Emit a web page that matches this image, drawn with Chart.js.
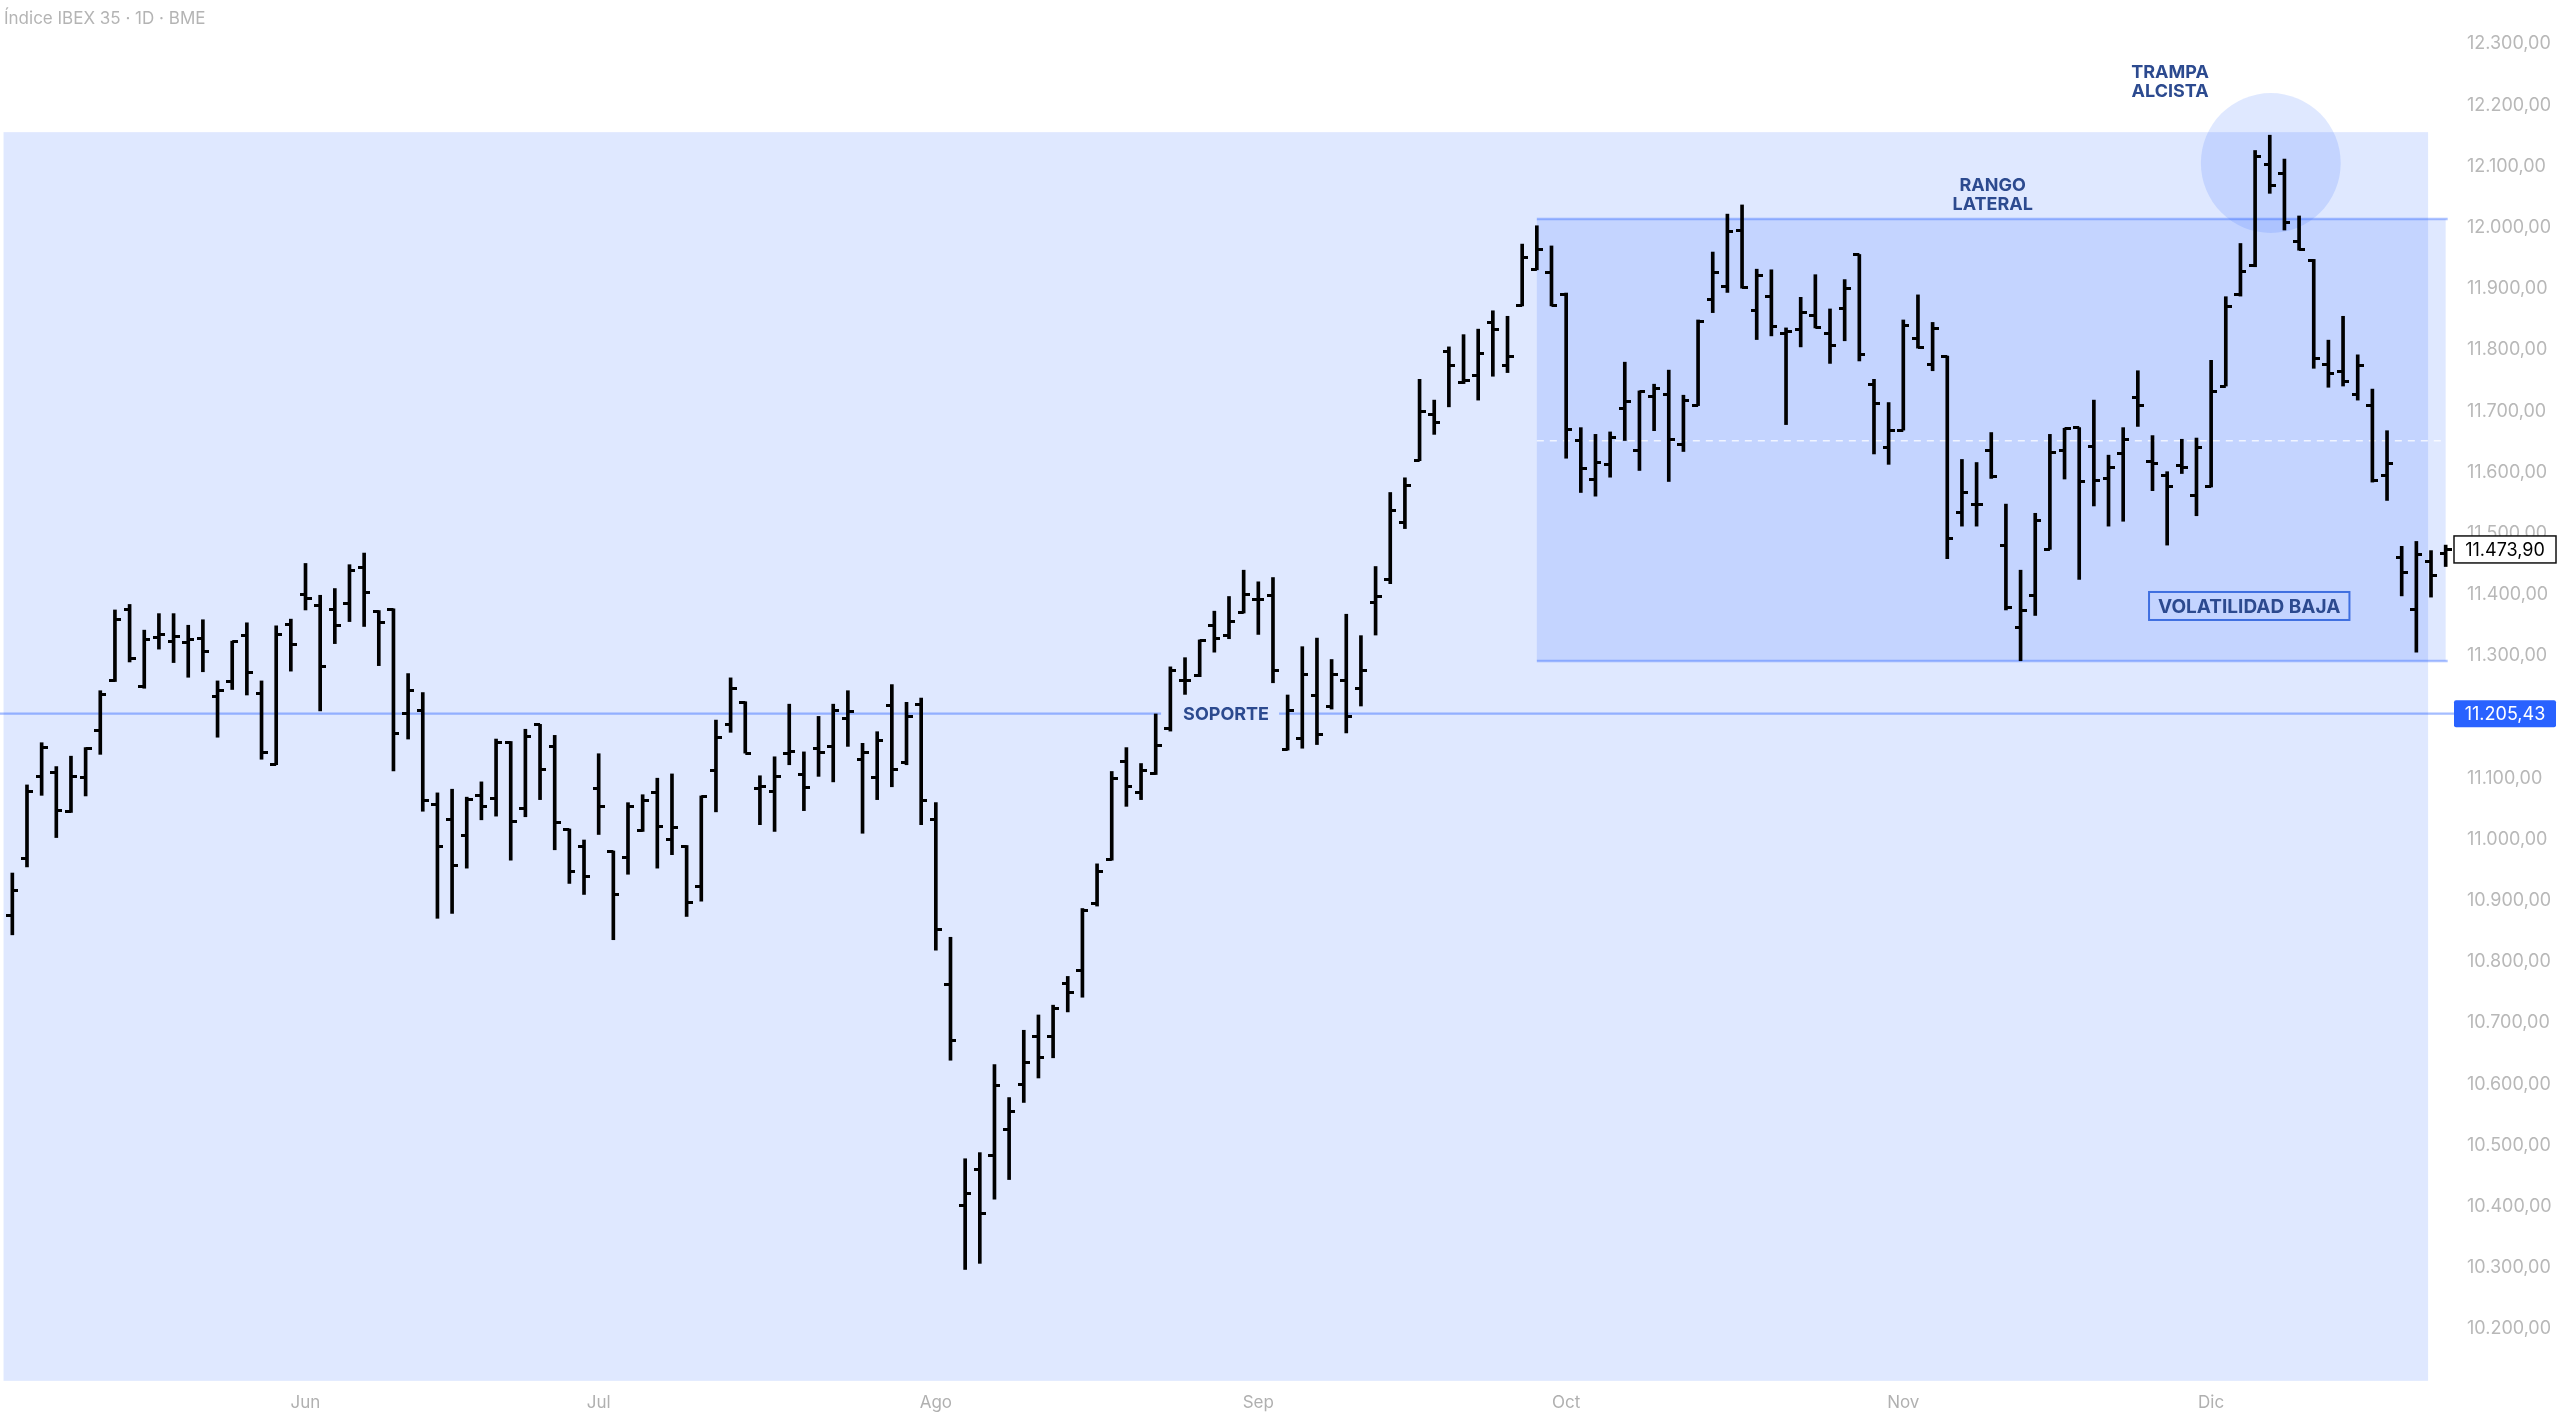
<!DOCTYPE html>
<html><head><meta charset="utf-8">
<script src="https://cdn.jsdelivr.net/npm/chart.js@4.4.1/dist/chart.umd.min.js"></script>
<style>html,body{margin:0;padding:0;background:#fff;overflow:hidden}#wrap{width:2560px;height:1415px}canvas{display:block}</style>
</head><body><div id="wrap"><canvas id="c" width="2560" height="1415"></canvas></div>
<script>
// ---------- DATA ----------
const monthNames = ['May','Jun','Jul','Ago','Sep','Oct','Nov','Dic'];
const tradingDays = [
  [6,7,8,9,10,13,14,15,16,17,20,21,22,23,24,27,28,29,30,31],
  [3,4,5,6,7,10,11,12,13,14,17,18,19,20,21,24,25,26,27,28],
  [1,2,3,4,5,8,9,10,11,12,15,16,17,18,19,22,23,24,25,26,29,30,31],
  [1,2,5,6,7,8,9,12,13,14,15,16,19,20,21,22,23,26,27,28,29,30],
  [2,3,4,5,6,9,10,11,12,13,16,17,18,19,20,23,24,25,26,27,30],
  [1,2,3,4,7,8,9,10,11,14,15,16,17,18,21,22,23,24,25,28,29,30,31],
  [1,4,5,6,7,8,11,12,13,14,15,18,19,20,21,22,25,26,27,28,29],
  [2,3,4,5,6,9,10,11,12,13,16,17,18,19,20,23,24]
];
const opens = [10876,10969,11102,11110,11045,11101,11178,11259,11375,11250,11330,11323,11322,11329,11233,11258,11334,11238,11123,11351,
11401,11382,11375,11385,11445,11373,11376,11205,11210,11057,11033,11007,11072,11067,11159,11050,11187,11152,11016,10988,
11083,10980,10971,11015,11077,11000,10988,10923,11113,11187,11224,11083,11078,11141,11106,11148,11152,11198,11131,11101,
11219,11125,11221,11033,10762,10402,10461,10483,10526,10599,10678,10677,10765,10786,10896,10967,11128,11077,11107,11182,
11260,11268,11350,11333,11371,11392,11399,11147,11165,11235,11217,11259,11246,11387,11425,11518,11620,11695,11797,11747,
11758,11845,11774,11873,11932,11927,11891,11652,11588,11612,11705,11635,11724,11727,11645,11710,11882,11903,11996,11864,
11887,11827,11833,11857,11827,11867,11956,11743,11641,11669,11819,11776,11789,11535,11548,11636,11480,11347,11399,11474,
11635,11673,11642,11590,11631,11722,11618,11595,11611,11562,11576,11741,11890,11938,12103,12089,11977,11947,11776,11764,
11727,11709,11594,11461,11376,11455,11468];
const highs = [10945,11089,11158,11119,11136,11150,11243,11375,11384,11342,11369,11369,11350,11359,11259,11324,11354,11259,11349,11360,
11451,11399,11410,11449,11468,11374,11377,11271,11240,11076,11082,11069,11094,11164,11160,11180,11188,11170,11017,10999,
11140,10981,11060,11073,11100,11107,10990,11071,11195,11264,11225,11104,11135,11221,11143,11201,11221,11243,11157,11176,
11253,11224,11231,11060,10840,10478,10488,10632,10578,10688,10713,10729,10776,10887,10960,11111,11150,11124,11205,11282,
11297,11326,11373,11397,11440,11421,11428,11236,11315,11329,11294,11368,11333,11446,11567,11591,11752,11718,11805,11825,
11834,11864,11855,11973,12003,11970,11893,11673,11662,11666,11780,11733,11744,11767,11726,11849,11960,12022,12037,11932,
11931,11836,11886,11923,11867,11915,11956,11752,11714,11849,11890,11845,11790,11621,11616,11665,11548,11440,11533,11662,
11672,11673,11718,11628,11673,11766,11660,11601,11654,11656,11783,11887,11974,12126,12151,12112,12019,11948,11816,11855,
11792,11736,11668,11479,11487,11472,11481];
const lows = [10844,10955,11072,11003,11044,11071,11139,11258,11290,11247,11311,11289,11265,11274,11167,11245,11236,11131,11122,11275,
11375,11210,11320,11356,11348,11284,11112,11164,11046,10871,10879,10953,11032,11038,10966,11037,11065,10983,10928,10910,
11008,10836,10943,11013,10953,10975,10874,10899,11045,11175,11141,11024,11013,11122,11047,11103,11094,11152,11010,11065,
11086,11122,11024,10819,10639,10297,10307,10412,10444,10570,10610,10643,10718,10742,10891,10966,11054,11065,11106,11177,
11237,11266,11306,11328,11370,11335,11256,11146,11149,11155,11213,11174,11218,11334,11418,11508,11619,11662,11707,11745,
11718,11757,11763,11872,11931,11872,11623,11567,11561,11592,11652,11603,11668,11585,11634,11709,11861,11894,11901,11817,
11823,11678,11805,11836,11778,11815,11782,11630,11613,11669,11803,11766,11459,11512,11512,11590,11375,11292,11366,11474,
11589,11425,11545,11512,11520,11675,11570,11481,11598,11529,11576,11741,11888,11936,12056,11996,11963,11770,11739,11741,
11718,11584,11554,11398,11306,11396,11446];
const closes = [10916,11078,11150,11048,11102,11149,11237,11360,11296,11326,11335,11331,11326,11307,11243,11323,11272,11142,11335,11319,
11394,11283,11349,11440,11403,11355,11173,11243,11063,10989,10957,11065,11053,11159,11030,11168,11115,11028,10947,10940,
11053,10910,11054,11063,11021,11019,10897,11070,11167,11247,11141,11087,11103,11144,11085,11142,11210,11209,11142,11162,
11114,11201,11063,10852,10671,10422,10388,10597,10556,10635,10643,10723,10750,10884,10947,11099,11086,11113,11153,11276,
11260,11325,11329,11356,11401,11392,11276,11210,11270,11171,11270,11201,11276,11397,11537,11578,11700,11682,11775,11750,
11795,11834,11789,11951,11964,11872,11670,11606,11616,11657,11715,11732,11737,11654,11717,11847,11926,11993,11902,11922,
11838,11830,11861,11837,11808,11901,11792,11712,11669,11840,11804,11835,11491,11567,11548,11593,11379,11374,11521,11633,
11671,11585,11587,11608,11653,11709,11615,11576,11608,11640,11732,11871,11928,12117,12068,12008,11964,11786,11761,11748,
11775,11586,11615,11437,11465,11431,11473.90];
const yTickValues = [10200,10300,10400,10500,10600,10700,10800,10900,11000,11100,11200,11300,11400,11500,11600,11700,11800,11900,12000,12100,12200,12300];
const supportLevel = 11205.43;
const lastPrice = 11473.90;
const titleText = 'Índice IBEX 35 · 1D · BME';
// annotation geometry in data units (bar index, price)
const outerZone = {from: -0.6, to: 164.8, top: 12156, bottom: 10115};
const rangeZone = {from: 104, to: 166, top: 12014, bottom: 11291.6, mid: 11651.7};
const trapCircle = {at: 154.07, price: 12105.5, radiusBars: 4.77};
const notes = [
  {lines: ['TRAMPA','ALCISTA'], at: 147.2, price: 12238},
  {lines: ['RANGO','LATERAL'], at: 135.1, price: 12053}
];
const supportNote = {text: 'SOPORTE', at: 82.8};
const volNote = {text: 'VOLATILIDAD BAJA', at: 152.6, price: 11381.5};

// ---------- BUILD ----------
const labels = [];
const monthTickAt = {};
tradingDays.forEach((arr, m) => arr.forEach((d, k) => {
  if (k === 0 && m > 0) monthTickAt[labels.length] = monthNames[m];
  labels.push(d + ' ' + monthNames[m] + ' 2024');
}));

function fmt(v) {
  const s = v.toFixed(2);
  let [ip, dp] = s.split('.');
  ip = ip.replace(/\B(?=(\d{3})+(?!\d))/g, '.');
  return ip + ',' + dp;
}
function tickCanvas(side) {
  const c = document.createElement('canvas');
  c.width = 12; c.height = 3;
  const g = c.getContext('2d');
  g.fillStyle = '#000';
  if (side === 'left') g.fillRect(0, 0, 6, 3); else g.fillRect(6, 0, 6, 3);
  return c;
}
const FONT = 'Inter, "Helvetica Neue", Arial, sans-serif';
const ZONE = 'rgba(41,98,255,0.15)';
const NOTE_COLOR = '#2c4a8f';
// vertical scale calibration (pixel of support level, pixels per index point)
const SUPPORT_PX = 713.7, PX_PER_POINT = 0.6118;

const annot = {
  id: 'annot',
  beforeDatasetsDraw(chart) {
    const {ctx, chartArea: a} = chart;
    const xs = chart.scales.x, ys = chart.scales.y;
    const X = i => xs.getPixelForValue(i), Y = v => ys.getPixelForValue(v);
    const bw = xs.width / labels.length;
    ctx.save();
    ctx.fillStyle = ZONE;
    const ox0 = Math.max(0, X(outerZone.from));
    ctx.fillRect(ox0, Y(outerZone.top), X(outerZone.to) - ox0, Y(outerZone.bottom) - Y(outerZone.top));
    ctx.fillRect(X(rangeZone.from), Y(rangeZone.top), X(rangeZone.to) - X(rangeZone.from), Y(rangeZone.bottom) - Y(rangeZone.top));
    ctx.beginPath();
    ctx.arc(X(trapCircle.at), Y(trapCircle.price), trapCircle.radiusBars * bw, 0, Math.PI * 2);
    ctx.fill();
    ctx.strokeStyle = 'rgba(41,98,255,0.38)';
    ctx.lineWidth = 2.5;
    [rangeZone.top, rangeZone.bottom].forEach(v => {
      ctx.beginPath(); ctx.moveTo(X(rangeZone.from), Y(v)); ctx.lineTo(X(rangeZone.to) + 2, Y(v)); ctx.stroke();
    });
    ctx.strokeStyle = 'rgba(255,255,255,0.75)';
    ctx.lineWidth = 1.5;
    ctx.setLineDash([7, 6]);
    ctx.beginPath(); ctx.moveTo(X(rangeZone.from), Y(rangeZone.mid)); ctx.lineTo(X(rangeZone.to), Y(rangeZone.mid)); ctx.stroke();
    ctx.setLineDash([]);
    ctx.font = 'bold 18px ' + FONT;
    const tw = ctx.measureText(supportNote.text).width;
    const sx = X(supportNote.at), sy = Y(supportLevel);
    ctx.strokeStyle = 'rgba(41,98,255,0.42)';
    ctx.lineWidth = 2.2;
    ctx.beginPath(); ctx.moveTo(0, sy); ctx.lineTo(sx - tw / 2 - 22, sy);
    ctx.moveTo(sx + tw / 2 + 10, sy); ctx.lineTo(a.right + 2, sy); ctx.stroke();
    ctx.restore();
  },
  afterDatasetsDraw(chart) {
    const {ctx} = chart;
    const xs = chart.scales.x, ys = chart.scales.y;
    const X = i => xs.getPixelForValue(i), Y = v => ys.getPixelForValue(v);
    ctx.save();
    ctx.fillStyle = NOTE_COLOR;
    ctx.textAlign = 'center'; ctx.textBaseline = 'middle';
    ctx.font = 'bold 18px ' + FONT;
    ctx.fillText(supportNote.text, X(supportNote.at), Y(supportLevel) + 1);
    notes.forEach(n => {
      const cy = Y(n.price);
      n.lines.forEach((t, k) => ctx.fillText(t, X(n.at), cy + (k - (n.lines.length - 1) / 2) * 19));
    });
    ctx.font = 'bold 19px ' + FONT;
    const vw = ctx.measureText(volNote.text).width;
    const vx = X(volNote.at), vy = Y(volNote.price);
    ctx.strokeStyle = '#3f6fe0'; ctx.lineWidth = 2;
    ctx.strokeRect(vx - vw / 2 - 9, vy - 14, vw + 18, 28);
    ctx.fillText(volNote.text, vx, vy + 1);
    ctx.restore();
  },
  afterDraw(chart) {
    const {ctx} = chart;
    const ys = chart.scales.y;
    ctx.save();
    ctx.font = '17px ' + FONT;
    ctx.fillStyle = '#b4b4b4';
    ctx.textAlign = 'left'; ctx.textBaseline = 'middle';
    ctx.fillText(titleText, 4, 19);
    const bx = ys.left + 1, bwid = 102, bh = 27;
    ctx.font = '18px ' + FONT;
    let y = ys.getPixelForValue(supportLevel);
    ctx.fillStyle = '#2962ff';
    ctx.beginPath(); ctx.roundRect(bx, y - bh / 2, bwid, bh, 2); ctx.fill();
    ctx.fillStyle = '#ffffff';
    ctx.textAlign = 'center';
    ctx.fillText(fmt(supportLevel), bx + bwid / 2, y + 1);
    y = ys.getPixelForValue(lastPrice);
    ctx.fillStyle = '#ffffff';
    ctx.fillRect(bx, y - bh / 2, bwid, bh);
    ctx.strokeStyle = '#111'; ctx.lineWidth = 1.5;
    ctx.strokeRect(bx, y - bh / 2, bwid, bh);
    ctx.fillStyle = '#000';
    ctx.fillText(fmt(lastPrice), bx + bwid / 2, y + 1);
    ctx.restore();
  }
};

const chart = new Chart(document.getElementById('c'), {
  data: {
    labels,
    datasets: [
      {type: 'bar', data: lows.map((l, i) => [l, highs[i]]), backgroundColor: '#000', barThickness: 3, order: 3},
      {type: 'line', data: opens, showLine: false, pointStyle: tickCanvas('left'), pointRadius: 3, order: 1},
      {type: 'line', data: closes, showLine: false, pointStyle: tickCanvas('right'), pointRadius: 3, order: 2}
    ]
  },
  options: {
    responsive: false,
    animation: false,
    devicePixelRatio: 1,
    events: [],
    layout: {padding: {left: 1, right: 0, top: 0, bottom: 0}},
    plugins: {legend: {display: false}, tooltip: {enabled: false}, title: {display: false}},
    scales: {
      x: {
        type: 'category', offset: true,
        grid: {display: false, drawTicks: false}, border: {display: false},
        ticks: {
          autoSkip: false, maxRotation: 0, padding: 8,
          color: '#b0b0b0', font: {family: FONT, size: 17},
          callback: (v, i) => monthTickAt[i] || ''
        },
        afterFit: s => { s.height = 30; s.paddingLeft = 0; s.paddingRight = 0; }
      },
      y: {
        position: 'right', min: 10108.19, max: 12371.97,
        grid: {display: false, drawTicks: false}, border: {display: false},
        ticks: {padding: 14, color: '#b8b8b8', font: {family: FONT, size: 18}, callback: v => fmt(v)},
        afterBuildTicks: s => { s.ticks = yTickValues.map(v => ({value: v})); },
        afterFit: s => { s.width = 107; s.paddingTop = 0; s.paddingBottom = 0; }
      }
    }
  },
  plugins: [annot]
});
// calibrate the value range to the real plot area so the price scale matches the reference
const area = chart.chartArea;
chart.options.scales.y.max = supportLevel + (SUPPORT_PX - area.top) / PX_PER_POINT;
chart.options.scales.y.min = supportLevel - (area.bottom - SUPPORT_PX) / PX_PER_POINT;
chart.update();
</script></body></html>
